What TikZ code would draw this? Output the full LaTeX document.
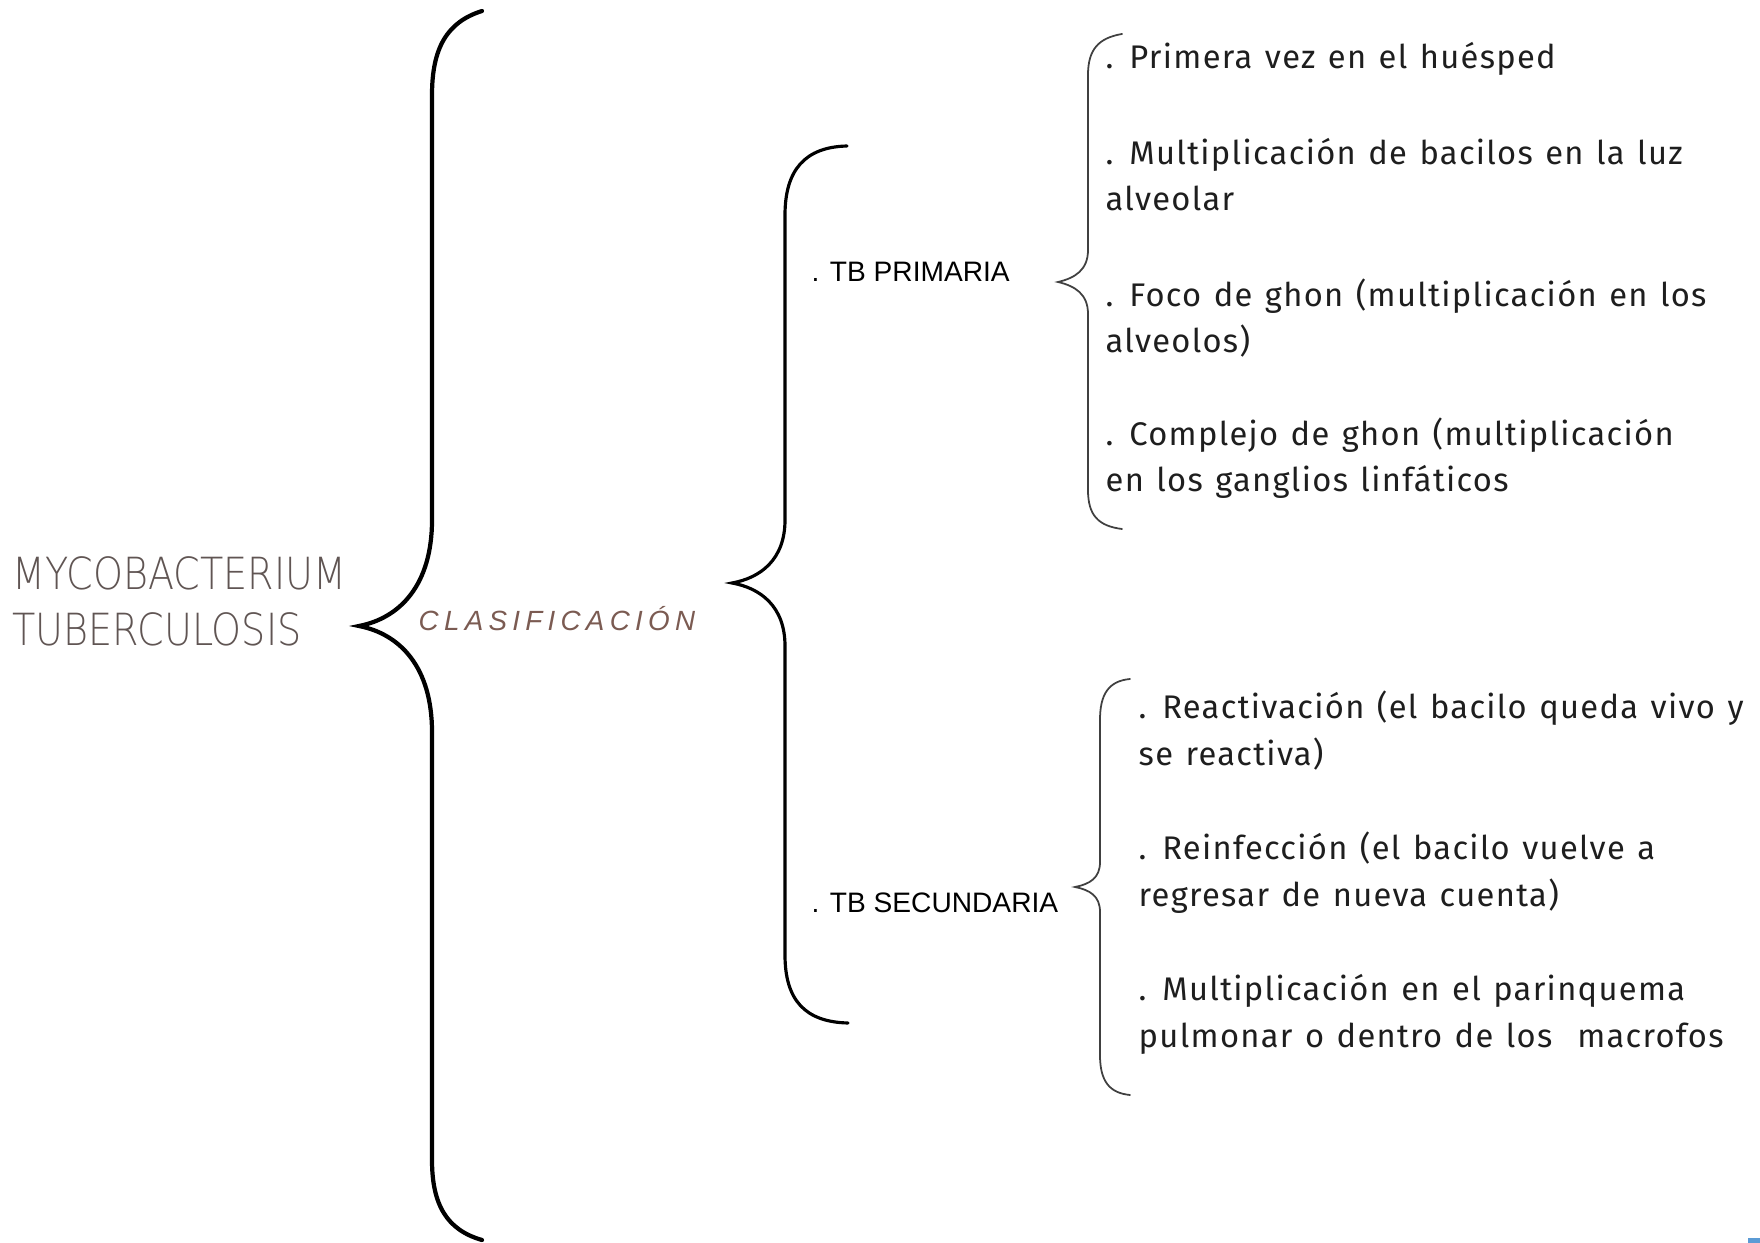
\documentclass[tikz,border=0pt]{standalone}
\usepackage{fontspec}
\setmainfont{Fira Sans}[WordSpace=1.25]
\newfontfamily\thinfont{DejaVu Sans ExtraLight}
\newfontfamily\tbfont{Liberation Sans}
\usetikzlibrary{positioning}
\definecolor{titlegray}{HTML}{605553}
\definecolor{clasbrown}{HTML}{7B5B52}
\definecolor{itemblack}{HTML}{1E1E1E}
\definecolor{cornerblue}{HTML}{5B9BD5}
\tikzset{
  itemtext/.style={anchor=base west, inner sep=0pt, align=left, text=itemblack,
    font=\fontsize{9.3}{13.1}\selectfont\addfontfeature{LetterSpace=4}},
  tblabel/.style={anchor=base west, inner sep=0pt, font=\tbfont\fontsize{8}{9.6}\selectfont},
  bigbrace/.style={line width=1.2pt, line cap=round},
  midbrace/.style={line width=0.9pt, line cap=round},
  smallbrace/.style={line width=0.5pt, draw=black!75, line cap=round}
}

\begin{document}
\begin{tikzpicture}[x=0.01cm, y=-0.01cm]
\useasboundingbox (0,0) rectangle (1760,1243);

% titles (base = last line)
\node[anchor=base west, inner sep=0pt, align=left, text=titlegray,
  font=\thinfont\fontsize{12.6}{16.2}\selectfont] (myco) at (12,646)
  {\scalebox{0.86}[1]{MYCOBACTERIUM}\\\scalebox{0.86}[1]{TUBERCULOSIS}};
\node[anchor=base west, inner sep=0pt, text=clasbrown,
  font=\tbfont\itshape\fontsize{7.9}{9.5}\selectfont\addfontfeature{LetterSpace=19}] (clas) at (418,630) {CLASIFICACIÓN};

\node[tblabel] (prim) at (811,282) {. TB PRIMARIA};
\node[tblabel] (sec) at (811,912) {. TB SECUNDARIA};

% items, placed at the baseline of their last line
\node[itemtext] (prim1) at (1105,69) {. Primera vez en el huésped};
\node[itemtext] (prim2) at (1105,211) {. Multiplicación de bacilos en la luz\\alveolar};
\node[itemtext] (prim3) at (1105,353) {. Foco de ghon (multiplicación en los\\alveolos)};
\node[itemtext] (prim4) at (1105,492) {. Complejo de ghon (multiplicación\\en los ganglios linfáticos};

\node[itemtext] (sec1) at (1138,765) {. Reactivación (el bacilo queda vivo y\\se reactiva)};
\node[itemtext] (sec2) at (1138,906) {. Reinfección (el bacilo vuelve a\\regresar de nueva cuenta)};
\node[itemtext] (sec3) at (1138,1047) {. Multiplicación en el parinquema\\pulmonar o dentro de los\ \ macrofos};

% brace ends
\coordinate (bigtop) at (482,11);
\coordinate (bigtip) at (359,626);
\coordinate (bigbot) at (482,1240);
\coordinate (midtop) at (847,146);
\coordinate (midtip) at (732,583);
\coordinate (midbot) at (848,1023);
\coordinate (primtop) at (1122,34);
\coordinate (primtip) at (1058,282);
\coordinate (primbot) at (1122,529);
\coordinate (sectop) at (1130,679);
\coordinate (sectip) at (1075,887);
\coordinate (secbot) at (1130,1095);

\draw[bigbrace] (bigtop) .. controls (447,22) and (432,48) .. (432,95) -- (432,520)
  .. controls (432,585) and (400,618) .. (bigtip)
  .. controls (400,634) and (432,667) .. (432,732) -- (432,1160)
  .. controls (432,1205) and (447,1230) .. (bigbot);
\draw[midbrace] (midtop) .. controls (805,147) and (785,170) .. (785,215) -- (785,520)
  .. controls (785,560) and (760,578) .. (midtip)
  .. controls (760,588) and (785,606) .. (785,646) -- (785,955)
  .. controls (785,1000) and (805,1022) .. (midbot);
\draw[smallbrace] (primtop) .. controls (1098,38) and (1088,50) .. (1088,75) -- (1088,250)
  .. controls (1088,270) and (1075,278) .. (primtip)
  .. controls (1075,286) and (1088,294) .. (1088,314) -- (1088,490)
  .. controls (1088,515) and (1098,526) .. (primbot);
\draw[smallbrace] (sectop) .. controls (1108,681) and (1100,695) .. (1100,720) -- (1100,862)
  .. controls (1100,878) and (1090,884) .. (sectip)
  .. controls (1090,890) and (1100,896) .. (1100,912) -- (1100,1055)
  .. controls (1100,1082) and (1110,1093) .. (secbot);

\fill[cornerblue] (1748,1238) rectangle (1760,1243);
\end{tikzpicture}
\end{document}
